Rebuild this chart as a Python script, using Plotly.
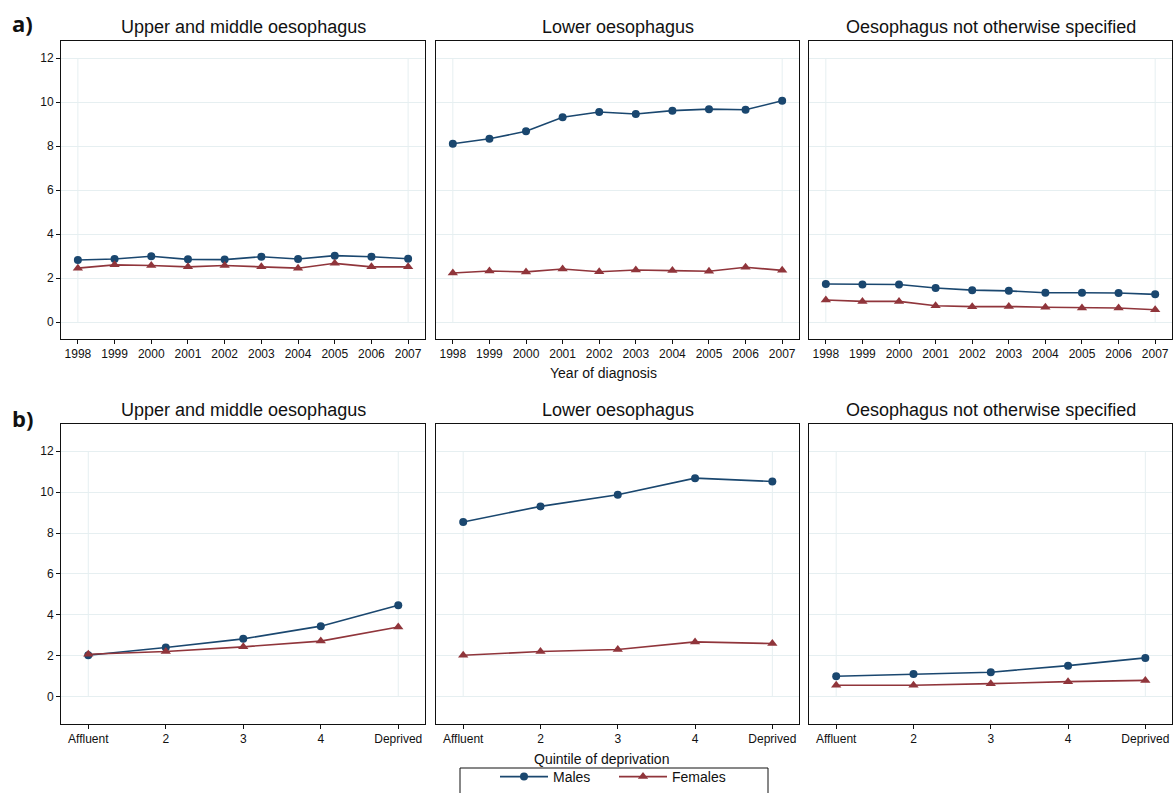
import plotly.graph_objects as go

W, H = 1173, 793

years = [1998, 1999, 2000, 2001, 2002, 2003, 2004, 2005, 2006, 2007]
year_labels = [str(y) for y in years]
quintiles = [1, 2, 3, 4, 5]
quintile_labels = ["Affluent", "2", "3", "4", "Deprived"]

site_titles = ["Upper and middle oesophagus", "Lower oesophagus", "Oesophagus not otherwise specified"]

# a) by year of diagnosis
males_year_upper = [2.82, 2.87, 2.99, 2.85, 2.84, 2.97, 2.87, 3.02, 2.97, 2.88]
females_year_upper = [2.45, 2.60, 2.57, 2.51, 2.57, 2.51, 2.45, 2.67, 2.51, 2.51]
males_year_lower = [8.11, 8.33, 8.67, 9.31, 9.55, 9.46, 9.61, 9.68, 9.65, 10.06]
females_year_lower = [2.23, 2.32, 2.28, 2.41, 2.29, 2.37, 2.34, 2.31, 2.49, 2.35]
males_year_nos = [1.73, 1.71, 1.71, 1.55, 1.45, 1.42, 1.33, 1.33, 1.32, 1.26]
females_year_nos = [1.00, 0.94, 0.94, 0.74, 0.70, 0.71, 0.67, 0.64, 0.64, 0.56]

# b) by quintile of deprivation
males_dep_upper = [2.03, 2.41, 2.83, 3.45, 4.47]
females_dep_upper = [2.08, 2.21, 2.44, 2.72, 3.41]
males_dep_lower = [8.54, 9.30, 9.87, 10.68, 10.52]
females_dep_lower = [2.03, 2.21, 2.31, 2.68, 2.60]
males_dep_nos = [1.00, 1.11, 1.20, 1.52, 1.90]
females_dep_nos = [0.56, 0.56, 0.64, 0.74, 0.80]

y_ticks = [0, 2, 4, 6, 8, 10, 12]

MALE_C = "#1a476f"
FEMALE_C = "#90353b"
GRID_C = "#e6eff1"
FONT = "Liberation Sans, Arial, sans-serif"


def px(x):
    return x / W


def py(y):
    return 1 - y / H


panels = [
    (years, males_year_upper, females_year_upper),
    (years, males_year_lower, females_year_lower),
    (years, males_year_nos, females_year_nos),
    (quintiles, males_dep_upper, females_dep_upper),
    (quintiles, males_dep_lower, females_dep_lower),
    (quintiles, males_dep_nos, females_dep_nos),
]

col_px = [(61, 425), (436, 799), (809, 1172)]
row_px = [(40.5, 339), (423.5, 724)]
row_yrange = [[-0.77, 12.8], [-1.33, 13.35]]
row_xrange = [[1997.54, 2007.46], [0.648, 5.345]]

fig = go.Figure()
layout = dict(
    width=W, height=H,
    margin=dict(l=0, r=0, t=0, b=0),
    paper_bgcolor="white", plot_bgcolor="white",
    font=dict(family=FONT, size=12, color="#111"),
    showlegend=True,
)
shapes = []
annotations = []

for i, (xv, m, f) in enumerate(panels):
    r, c = divmod(i, 3)
    n = i + 1
    xa = "x" if n == 1 else f"x{n}"
    ya = "y" if n == 1 else f"y{n}"
    fig.add_trace(go.Scatter(
        x=xv, y=m, mode="lines+markers", name="Males",
        line=dict(color=MALE_C, width=1.6),
        marker=dict(symbol="circle", size=8, color=MALE_C),
        xaxis=xa, yaxis=ya, showlegend=(i == 0), legendgroup="m"))
    fig.add_trace(go.Scatter(
        x=xv, y=f, mode="lines+markers", name="Females",
        line=dict(color=FEMALE_C, width=1.6),
        marker=dict(symbol="triangle-up", size=9, color=FEMALE_C),
        xaxis=xa, yaxis=ya, showlegend=(i == 0), legendgroup="f"))

    x0, x1 = col_px[c]
    y0, y1 = row_px[r]
    xdom = [max(0, px(x0)), min(1, px(x1))]
    ydom = [max(0, py(y1)), min(1, py(y0))]
    if r == 0:
        tv, tt = years, year_labels
    else:
        tv, tt = quintiles, quintile_labels
    layout["xaxis" if n == 1 else f"xaxis{n}"] = dict(
        domain=xdom, anchor=ya, range=row_xrange[r],
        tickvals=tv, ticktext=tt, ticks="outside", ticklen=4, tickcolor="#111",
        showgrid=False, zeroline=False, showline=True, mirror=True,
        linecolor="#111", linewidth=1, tickfont=dict(size=12, family=FONT, color="#111"),
    )
    layout["yaxis" if n == 1 else f"yaxis{n}"] = dict(
        domain=ydom, anchor=xa, range=row_yrange[r],
        tickvals=y_ticks, ticks="outside" if c == 0 else "", ticklen=4, tickcolor="#111",
        showticklabels=(c == 0), showgrid=True, gridcolor=GRID_C, gridwidth=1,
        zeroline=False, showline=True, mirror=True, linecolor="#111", linewidth=1,
        tickfont=dict(size=12, family=FONT, color="#111"),
    )
    # inner plot-region outline (vertical edges at first/last category)
    for xe in (xv[0], xv[-1]):
        shapes.append(dict(type="line", xref=xa, yref=ya, x0=xe, x1=xe, y0=0, y1=12,
                           line=dict(color=GRID_C, width=1), layer="below"))
    annotations.append(dict(
        text=site_titles[c], x=px((x0 + x1) / 2), y=py(y0 - 2),
        xref="paper", yref="paper", xanchor="center", yanchor="bottom",
        showarrow=False, font=dict(size=18, family=FONT, color="#111")))

annotations += [
    dict(text="<b>a)</b>", x=px(10), y=py(23), xref="paper", yref="paper",
         xanchor="left", yanchor="middle", showarrow=False,
         font=dict(size=22, family="Open Sans, sans-serif", color="#111")),
    dict(text="<b>b)</b>", x=px(10), y=py(418), xref="paper", yref="paper",
         xanchor="left", yanchor="middle", showarrow=False,
         font=dict(size=22, family="Open Sans, sans-serif", color="#111")),
    dict(text="Year of diagnosis", x=px(603), y=py(373), xref="paper", yref="paper",
         xanchor="center", yanchor="middle", showarrow=False,
         font=dict(size=14, family=FONT, color="#111")),
    dict(text="Quintile of deprivation", x=px(601), y=py(759), xref="paper", yref="paper",
         xanchor="center", yanchor="middle", showarrow=False,
         font=dict(size=14, family=FONT, color="#111")),
]

# legend frame: the reference box runs past the bottom edge, so draw top and sides only,
# keeping everything inside the figure
for (lx0, ly0, lx1, ly1) in [(460, 768, 768, 768), (460, 768, 460, 793), (768, 768, 768, 793)]:
    shapes.append(dict(type="line", xref="paper", yref="paper",
                       x0=px(lx0), y0=py(ly0), x1=px(lx1), y1=py(ly1),
                       line=dict(color="#111", width=1)))

layout["shapes"] = shapes
layout["annotations"] = annotations
layout["legend"] = dict(
    orientation="h", x=px(495), y=0, xanchor="left", yanchor="bottom",
    borderwidth=0, bgcolor="rgba(0,0,0,0)",
    font=dict(size=14, family=FONT, color="#111"),
    itemwidth=48, entrywidth=56, tracegroupgap=0,
)
fig.update_layout(**layout)
fig.write_html(
    "out.html",
    config={"displayModeBar": False, "responsive": False},
    post_script=(
        "document.documentElement.style.overflow='hidden';"
        "document.body.style.margin='0';document.body.style.overflow='hidden';"
    ),
)
